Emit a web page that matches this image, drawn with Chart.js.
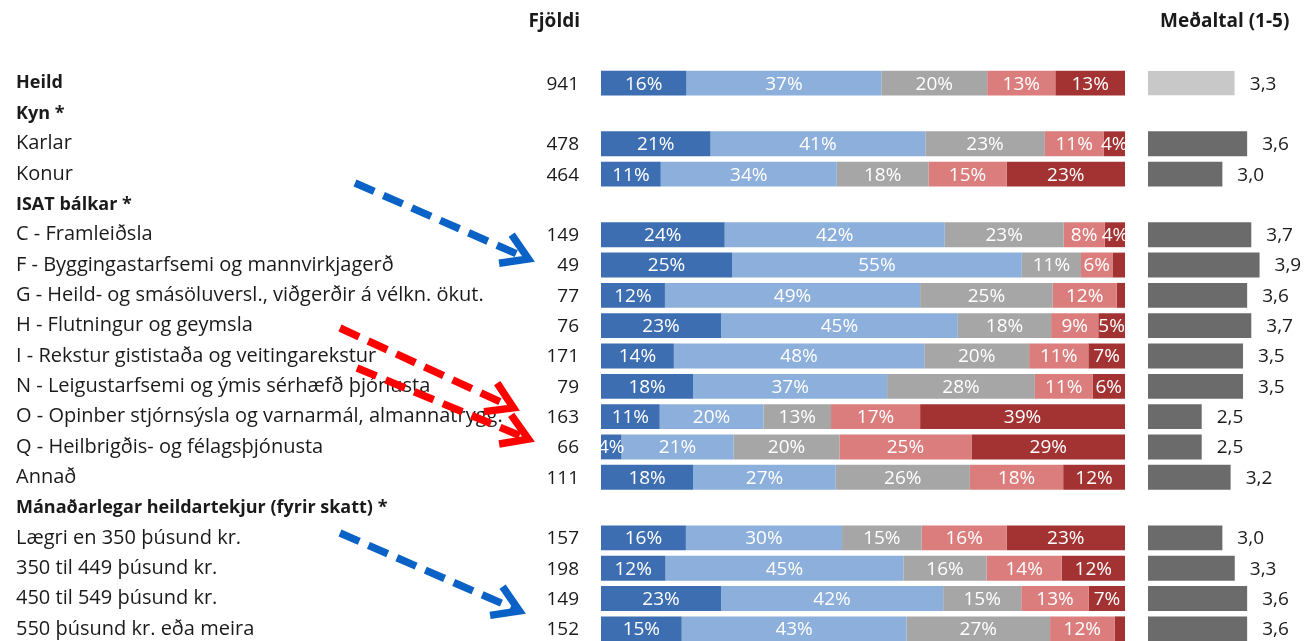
<!DOCTYPE html>
<html><head><meta charset="utf-8">
<script src="https://cdn.jsdelivr.net/npm/chart.js@4.4.1/dist/chart.umd.min.js"></script>
<style>
html,body{margin:0;padding:0;background:#fff;overflow:hidden;width:1305px;height:641px;}
#wrap{position:relative;width:1305px;height:641px;overflow:hidden;}
#c1{position:absolute;left:0;top:0;}
#c2{position:absolute;left:1130px;top:0;}
</style></head><body><div id="wrap"><canvas id="c1" width="1130" height="660"></canvas><canvas id="c2" width="175" height="660"></canvas></div>
<script>
const categories = ["Heild","Kyn *","Karlar","Konur","ISAT bálkar *","C - Framleiðsla","F - Byggingastarfsemi og mannvirkjagerð","G - Heild- og smásöluversl., viðgerðir á vélkn. ökut.","H - Flutningur og geymsla","I - Rekstur gististaða og veitingarekstur","N - Leigustarfsemi og ýmis sérhæfð þjónusta","O - Opinber stjórnsýsla og varnarmál, almannatrygg.","Q - Heilbrigðis- og félagsþjónusta","Annað","Mánaðarlegar heildartekjur (fyrir skatt) *","Lægri en 350 þúsund kr.","350 til 449 þúsund kr.","450 til 549 þúsund kr.","550 þúsund kr. eða meira"];
const boldRows = [true,true,false,false,true,false,false,false,false,false,false,false,false,false,true,false,false,false,false];
const counts = [941,null,478,464,null,149,49,77,76,171,79,163,66,111,null,157,198,149,152];
const seriesNames = ["5","4","3","2","1"];
const s1 = [16.3,null,20.9,11.4,null,23.6,25.0,12.2,22.9,13.9,17.6,11.2,3.9,17.6,null,16.2,12.3,22.9,15.4];
const s2 = [37.2,null,41.0,33.6,null,42.0,55.3,48.7,45.2,47.8,37.0,19.8,21.4,27.2,null,29.8,45.4,42.4,42.9];
const s3 = [20.2,null,22.8,17.5,null,22.7,11.3,25.3,17.8,20.0,28.2,12.9,20.2,25.6,null,15.2,15.9,14.9,27.4];
const s4 = [13.0,null,11.2,14.9,null,7.8,6.0,12.2,9.0,11.3,11.0,17.0,25.2,17.8,null,16.2,14.3,12.9,12.3];
const s5 = [13.3,null,4.1,22.6,null,4.0,2.4,1.6,5.1,7.0,6.2,39.1,29.3,11.8,null,22.6,12.1,6.9,2.0];
const means = [3.3,null,3.6,3.0,null,3.7,3.9,3.6,3.7,3.5,3.5,2.5,2.5,3.2,null,3.0,3.3,3.6,3.6];
const colHeaders = ["Fjöldi","Meðaltal (1-5)"];

const FONT = "'Open Sans'";
const FS = 19;
const segColors = ["#3d6eb2","#8cafdb","#a6a6a6","#dc7d7d","#a33333"];

const arrows = [
  {color:"#0a62c6", from:[355,183], to:[533,261]},
  {color:"#ff0000", from:[340,328], to:[518,410]},
  {color:"#ff0000", from:[357,368], to:[533,441]},
  {color:"#0a62c6", from:[340,533], to:[524,613]}
];

const leftPlugin = {
  id:'leftText',
  afterDatasetsDraw(chart){
    const ctx = chart.ctx;
    ctx.save();
    ctx.textBaseline = 'middle';
    ctx.textAlign = 'center';
    ctx.fillStyle = '#ffffff';
    ctx.font = FS + "px " + FONT;
    chart.data.datasets.forEach((ds, di) => {
      const meta = chart.getDatasetMeta(di);
      meta.data.forEach((el, i) => {
        const v = ds.data[i];
        if (v == null || v < 3) return;
        ctx.fillText(Math.round(v) + '%', (el.x + el.base) / 2, el.y + 1);
      });
    });
    const ys = chart.scales.y;
    ctx.textAlign = 'right';
    ctx.fillStyle = '#1a1a1a';
    counts.forEach((c, i) => {
      if (c == null) return;
      ctx.fillText(String(c), 579, ys.getPixelForValue(i) + 1);
    });
    ctx.font = "bold " + FS + "px " + FONT;
    ctx.fillText(colHeaders[0], 580, 22);
    ctx.restore();
  },
  afterDraw(chart){
    const ctx = chart.ctx;
    ctx.save();
    arrows.forEach(a => {
      const [x0,y0] = a.from, [x1,y1] = a.to;
      const ang = Math.atan2(y1-y0, x1-x0);
      const len = Math.hypot(x1-x0, y1-y0);
      const ex = x0 + Math.cos(ang)*(len-6), ey = y0 + Math.sin(ang)*(len-6);
      ctx.strokeStyle = a.color;
      ctx.lineWidth = 7.5;
      ctx.lineCap = 'butt';
      ctx.setLineDash([21,10]);
      ctx.beginPath(); ctx.moveTo(x0,y0); ctx.lineTo(ex,ey); ctx.stroke();
      ctx.setLineDash([]);
      ctx.lineJoin = 'miter';
      const arm = 34, spread = 0.48;
      ctx.beginPath();
      ctx.moveTo(x1 - arm*Math.cos(ang - spread), y1 - arm*Math.sin(ang - spread));
      ctx.lineTo(x1 - 5*Math.cos(ang), y1 - 5*Math.sin(ang));
      ctx.lineTo(x1 - arm*Math.cos(ang + spread), y1 - arm*Math.sin(ang + spread));
      ctx.stroke();
    });
    ctx.restore();
  }
};

const series = [s1,s2,s3,s4,s5];
new Chart(document.getElementById('c1'), {
  type:'bar',
  data:{
    labels: categories,
    datasets: series.map((s, k) => ({
      label: seriesNames[k], data: s, backgroundColor: segColors[k],
      borderWidth: 0, barPercentage: 0.82, categoryPercentage: 1
    }))
  },
  options:{
    indexAxis:'y', responsive:false, animation:false,
    layout:{padding:{left:16, right:5, top:68, bottom:16}},
    plugins:{legend:{display:false}, tooltip:{enabled:false}},
    scales:{
      x:{stacked:true, min:0, max:100, display:false},
      y:{stacked:true, offset:true,
         grid:{display:false}, border:{display:false},
         afterFit(scale){ scale.width = 585; },
         ticks:{autoSkip:false, crossAlign:'far', color:'#1a1a1a', padding:0,
           font:(c) => boldRows[c.index] ? {family:FONT, size:18, weight:'bold'} : {family:FONT, size:20, weight:'normal'}}
      }
    }
  },
  plugins:[leftPlugin]
});

const rightPlugin = {
  id:'rightText',
  afterDatasetsDraw(chart){
    const ctx = chart.ctx;
    ctx.save();
    ctx.textBaseline = 'middle';
    ctx.textAlign = 'left';
    ctx.fillStyle = '#1a1a1a';
    ctx.font = FS + "px " + FONT;
    const meta = chart.getDatasetMeta(0);
    meta.data.forEach((el, i) => {
      const v = means[i];
      if (v == null) return;
      ctx.fillText(v.toFixed(1).replace('.', ','), el.x + 15, el.y + 1);
    });
    ctx.font = "bold " + FS + "px " + FONT;
    ctx.fillText(colHeaders[1], 30, 22);
    ctx.restore();
  }
};

new Chart(document.getElementById('c2'), {
  type:'bar',
  data:{
    labels: categories,
    datasets:[{
      label: colHeaders[1], data: means,
      backgroundColor: (c) => c.dataIndex === 0 ? '#c8c8c8' : '#6b6b6b',
      borderColor: '#808080',
      borderSkipped: false,
      borderWidth: (c) => c.dataIndex === 0 ? {left:2, right:0, top:0, bottom:0} : 0,
      barPercentage: 0.82, categoryPercentage: 1
    }]
  },
  options:{
    indexAxis:'y', responsive:false, animation:false,
    layout:{padding:{left:18, right:0, top:68, bottom:16}},
    plugins:{legend:{display:false}, tooltip:{enabled:false}},
    scales:{
      x:{min:1.2, max:5, display:false},
      y:{offset:true, display:false}
    }
  },
  plugins:[rightPlugin]
});
</script>
</body></html>
